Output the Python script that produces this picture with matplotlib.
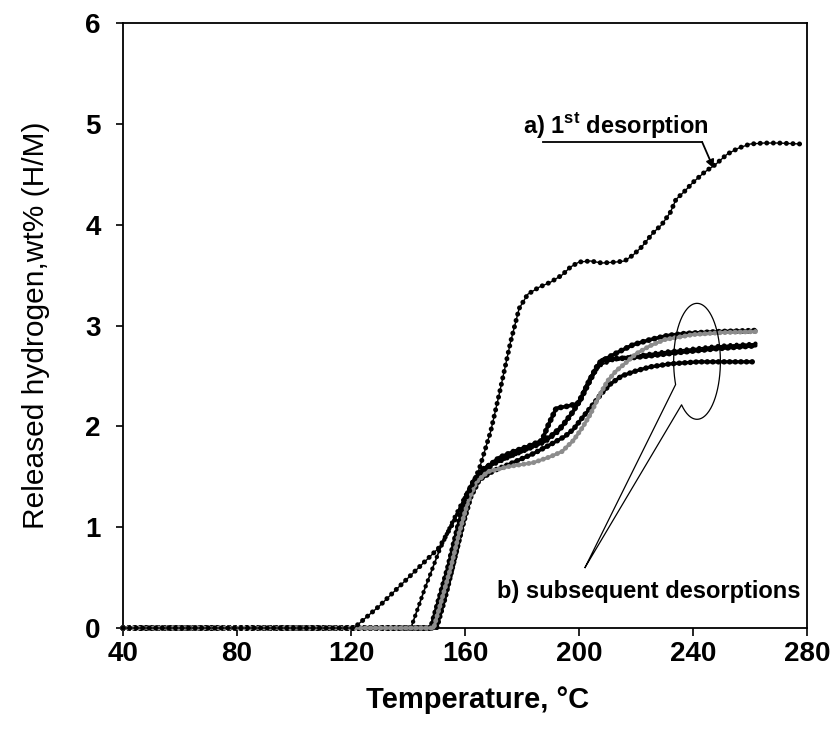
import numpy as np
import matplotlib
matplotlib.use("Agg")
import matplotlib.pyplot as plt

plt.rcParams['font.family'] = ['Liberation Sans', 'DejaVu Sans']
plt.rcParams['mathtext.fontset'] = 'custom'
plt.rcParams['mathtext.rm'] = 'Liberation Sans'
plt.rcParams['mathtext.bf'] = 'Liberation Sans:bold'

# a) 1st desorption
temp_first = [40, 121, 130, 151, 156, 161, 165, 169, 172, 176, 179, 182, 186, 190, 194, 197, 200,
              204, 208, 213, 216, 219, 222, 226, 229, 232, 234, 237, 240, 244, 248, 252, 256,
              260, 265, 270, 278]
h_first = [0, 0, 0.22, 0.80, 1.05, 1.32, 1.58, 1.95, 2.32, 2.84, 3.17, 3.31, 3.38, 3.43, 3.50,
           3.58, 3.63, 3.64, 3.62, 3.63, 3.64, 3.70, 3.78, 3.92, 4.00, 4.12, 4.25, 4.33, 4.42,
           4.52, 4.60, 4.70, 4.76, 4.80, 4.81, 4.81, 4.80]

# b) subsequent desorptions
temp_s1 = [40, 149, 152, 155, 158, 161, 163, 165, 168, 172, 177, 182, 187, 189, 192, 196, 200,
           203, 206, 208, 212, 218, 225, 234, 248, 262]
h_s1 = [0, 0, 0.25, 0.55, 0.90, 1.25, 1.42, 1.52, 1.60, 1.69, 1.75, 1.80, 1.86, 2.00, 2.18,
        2.20, 2.23, 2.42, 2.58, 2.66, 2.67, 2.68, 2.70, 2.73, 2.77, 2.80]

temp_s2 = [40, 148, 151, 154, 157, 160, 163, 166, 170, 175, 180, 185, 190, 194, 198, 202, 205,
           207, 210, 214, 219, 225, 231, 237, 243, 250, 262]
h_s2 = [0, 0, 0.30, 0.60, 0.95, 1.28, 1.46, 1.57, 1.64, 1.70, 1.76, 1.82, 1.90, 2.00, 2.15,
        2.35, 2.52, 2.62, 2.68, 2.74, 2.81, 2.86, 2.90, 2.92, 2.93, 2.94, 2.95]

temp_s3 = [40, 141, 146, 151, 156, 161, 165, 170, 176, 182, 188, 193, 197, 201, 204, 207, 212,
           220, 230, 240, 250, 262]
h_s3 = [0, 0, 0.40, 0.77, 1.08, 1.36, 1.52, 1.62, 1.70, 1.77, 1.84, 1.95, 2.10, 2.30, 2.48,
        2.60, 2.66, 2.70, 2.74, 2.77, 2.80, 2.82]

temp_s4 = [40, 150, 153, 156, 159, 162, 165, 170, 176, 184, 190, 195, 198, 201, 205, 208, 211,
           215, 220, 225, 232, 242, 252, 261]
h_s4 = [0, 0, 0.30, 0.65, 1.00, 1.30, 1.47, 1.56, 1.63, 1.73, 1.82, 1.90, 1.97, 2.08, 2.22,
        2.33, 2.42, 2.50, 2.55, 2.59, 2.62, 2.64, 2.64, 2.64]

temp_s5 = [40, 149, 152, 155, 158, 161, 164, 168, 175, 184, 190, 194, 198, 201, 204, 207, 210,
           213, 216, 220, 225, 230, 240, 250, 262]
h_s5 = [0, 0, 0.30, 0.60, 0.95, 1.25, 1.45, 1.55, 1.60, 1.64, 1.70, 1.75, 1.86, 1.98, 2.12,
        2.30, 2.45, 2.55, 2.62, 2.72, 2.80, 2.86, 2.91, 2.93, 2.94]

x_ticks = [40, 80, 120, 160, 200, 240, 280]
y_ticks = [0, 1, 2, 3, 4, 5, 6]

fig = plt.figure(figsize=(8.37, 7.48), dpi=100)
ax = fig.add_axes([0.147, 0.1604, 0.8172, 0.8088])


def beaded(x, y, color, lw, dot, gap, z):
    ax.plot(x, y, color=color, lw=lw, zorder=z, solid_capstyle='round', clip_on=False)
    ax.plot(x, y, color=color, lw=dot, linestyle=(0, (0.01, gap)),
            dash_capstyle='round', zorder=z, clip_on=False)


beaded(temp_s1, h_s1, 'black', 2.6, 4.2, 1.0, 3)
beaded(temp_s2, h_s2, 'black', 2.6, 4.2, 1.0, 3)
beaded(temp_s3, h_s3, 'black', 1.2, 3.2, 1.4, 3)
beaded(temp_s4, h_s4, 'black', 2.4, 4.0, 1.0, 3)
beaded(temp_s5, h_s5, '#8c8c8c', 2.2, 3.6, 1.0, 4)
beaded(temp_first, h_first, 'black', 1.0, 3.6, 1.3, 5)

# callout ellipse around the plateau ends
cx, cy, rx, ry = 241.4, 2.645, 8.2, 0.575
tip = (202.1, 0.60)
t = np.radians(np.linspace(228.6, 203.6 + 360, 200))
ex = cx + rx * np.cos(t)
ey = cy + ry * np.sin(t)
ax.plot(np.r_[tip[0], ex, tip[0]], np.r_[tip[1], ey, tip[1]], color='black', lw=0.9, zorder=6)

ax.text(224.6, 0.36, 'b) subsequent desorptions', fontsize=17, fontweight='bold',
        ha='center', va='center')

ax.text(213.0, 4.99, r'a) 1$^{\mathbf{st}}$ desorption', fontsize=17, fontweight='bold',
        ha='center', va='center')
ax.plot([187.4, 243.2], [4.82, 4.82], color='black', lw=1.3)
ax.annotate('', xy=(247.2, 4.56), xytext=(243.2, 4.82),
            arrowprops=dict(arrowstyle='-|>', color='black', lw=1.3, mutation_scale=12,
                            shrinkA=0, shrinkB=0))

ax.set_xlim(40, 280)
ax.set_ylim(0, 6)
ax.set_xticks(x_ticks)
ax.set_yticks(y_ticks)
ax.tick_params(axis='x', direction='out', length=6, width=1.2, pad=3, labelsize=20)
ax.tick_params(axis='y', direction='out', length=5, width=1.2, pad=11, labelsize=20)
for lab in ax.get_xticklabels() + ax.get_yticklabels():
    lab.set_fontweight('bold')
for sp in ax.spines.values():
    sp.set_linewidth(1.3)

ax.set_xlabel('Temperature, °C', fontsize=21, fontweight='bold')
ax.xaxis.set_label_coords((478 - 123) / 684, -0.119)
ax.xaxis.label.set_va('center')
ax.set_ylabel('Released hydrogen,wt% (H/M)', fontsize=21.5)
ax.yaxis.set_label_coords(-0.107, 0.5)

fig.savefig('out.png', dpi=100)
